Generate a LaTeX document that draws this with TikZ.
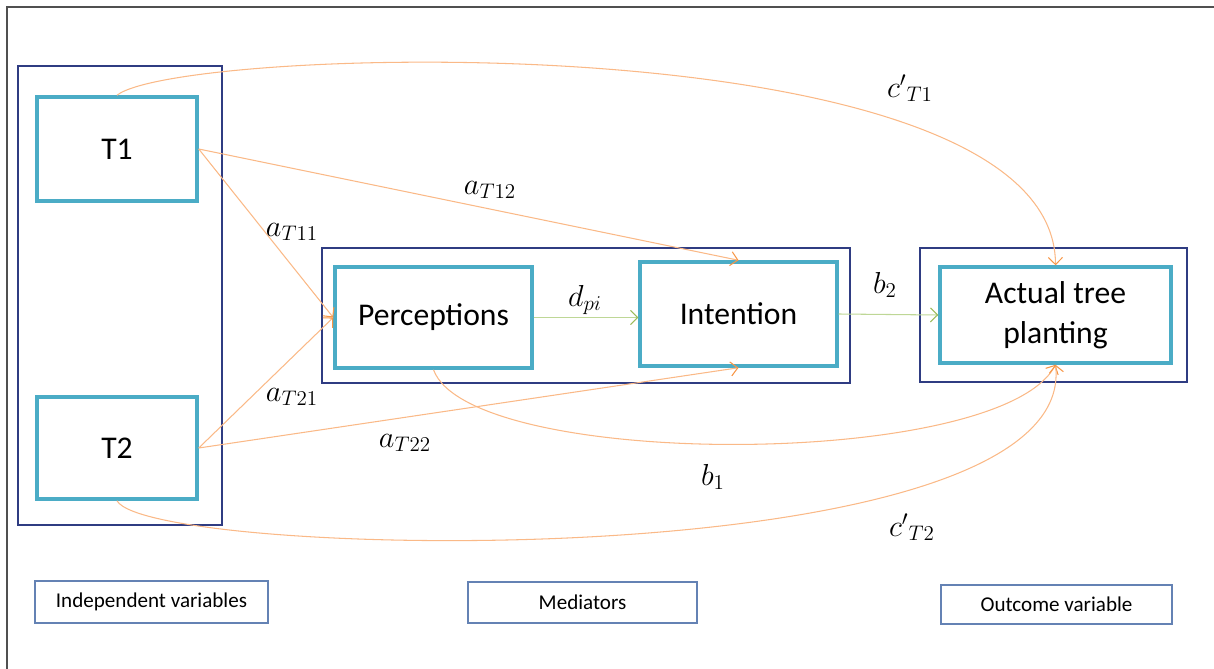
\documentclass[tikz,border=0pt]{standalone}
\usepackage{fontspec}
\setmainfont{Carlito}
\usepackage{xcolor}
\usepackage{amsmath}
\usetikzlibrary{arrows.meta}

\definecolor{frameblue}{RGB}{47,60,130}
\definecolor{boxteal}{RGB}{75,172,198}
\definecolor{legendblue}{RGB}{100,130,180}
\definecolor{pathorange}{RGB}{250,185,135}
\definecolor{tiporange}{RGB}{247,150,70}
\definecolor{pathgreen}{RGB}{190,215,150}
\definecolor{tipgreen}{RGB}{155,187,89}
\definecolor{framegrey}{RGB}{80,80,80}

\begin{document}
\begin{tikzpicture}[x=0.02cm,y=-0.02cm]
        % Define styles
        \tikzset{
            groupbox/.style={rectangle, draw=frameblue, line width=0.8pt},
            varbox/.style={rectangle, draw=boxteal, line width=2pt, align=center, font=\fontsize{18}{22.5}\selectfont},
            legendbox/.style={rectangle, draw=legendblue, line width=0.9pt, font=\fontsize{12}{14}\selectfont},
            coefnode/.style={font=\fontsize{18.5}{22}\selectfont},
            orangearrow/.style={->,>={Straight Barb[length=4pt,width=8pt,color=tiporange]}, draw=pathorange, line width=0.6pt},
            greenarrow/.style={->,>={Straight Barb[length=4pt,width=8pt,color=tipgreen]}, draw=pathgreen, line width=0.6pt}
        }

        \useasboundingbox (0,0) rectangle (1214,669);
        \draw[framegrey, line width=1pt] (7,669) -- (7,7) -- (1214,7);

        % Groups
        \node[groupbox, minimum width=4.08cm, minimum height=9.18cm] (group_indep) at (120,295.5) {};
        \node[groupbox, minimum width=10.56cm, minimum height=2.7cm] (group_med) at (586,315.5) {};
        \node[groupbox, minimum width=5.34cm, minimum height=2.68cm] (group_out) at (1053.5,315) {};

        % Nodes
        \node[varbox, minimum width=3.2cm, minimum height=2.08cm] (t1) at (117,149) {T1};
        \node[varbox, minimum width=3.2cm, minimum height=2.04cm] (t2) at (117,448) {T2};
        \node[varbox, minimum width=3.94cm, minimum height=2.02cm] (perceptions) at (433.5,317.5) {Perceptions};
        \node[varbox, minimum width=3.94cm, minimum height=2.08cm] (intention) at (738.5,314) {Intention};
        \node[varbox, minimum width=4.62cm, minimum height=1.92cm] (actual) at (1055.5,315) {Actual tree\\planting};

        % Legend
        \node[legendbox, minimum width=4.66cm, minimum height=0.84cm] (legend_indep) at (151.5,602) {Independent variables};
        \node[legendbox, minimum width=4.58cm, minimum height=0.82cm] (legend_med) at (582.5,602.5) {Mediators};
        \node[legendbox, minimum width=4.62cm, minimum height=0.78cm] (legend_out) at (1056.5,604.5) {Outcome variable};

        % Arrows
        \draw[orangearrow] (t1.north) .. controls (180,45) and (1055,20) .. (actual.north);
        \draw[orangearrow] (t1.east) -- (intention.north);
        \draw[orangearrow] (t1.east) -- (perceptions.west);
        \draw[orangearrow] (t2.east) -- (perceptions.west);
        \draw[orangearrow] (t2.east) -- (intention.south);
        \draw[orangearrow] (perceptions.south) .. controls (470,470) and (1000,470) .. (actual.south);
        \draw[orangearrow] (t2.south) .. controls (150,560) and (1080,580) .. (actual.south);
        \draw[greenarrow] (perceptions.east) -- (perceptions.east -| intention.west);
        \draw[greenarrow] (intention.east) -- (actual.west);

        % Coefficients
        \node[coefnode] (lab_cT1) at (910,88) {${c'}_{T1}$};
        \node[coefnode] (lab_aT12) at (490,190) {$a_{T12}$};
        \node[coefnode] (lab_aT11) at (292,232) {$a_{T11}$};
        \node[coefnode] (lab_dpi) at (585,300) {$d_{pi}$};
        \node[coefnode] (lab_b2) at (885,285) {$b_2$};
        \node[coefnode] (lab_aT21) at (292,397) {$a_{T21}$};
        \node[coefnode] (lab_aT22) at (405,443) {$a_{T22}$};
        \node[coefnode] (lab_b1) at (713,477) {$b_1$};
        \node[coefnode] (lab_cT2) at (912,527) {${c'}_{T2}$};
    \end{tikzpicture}
\end{document}
